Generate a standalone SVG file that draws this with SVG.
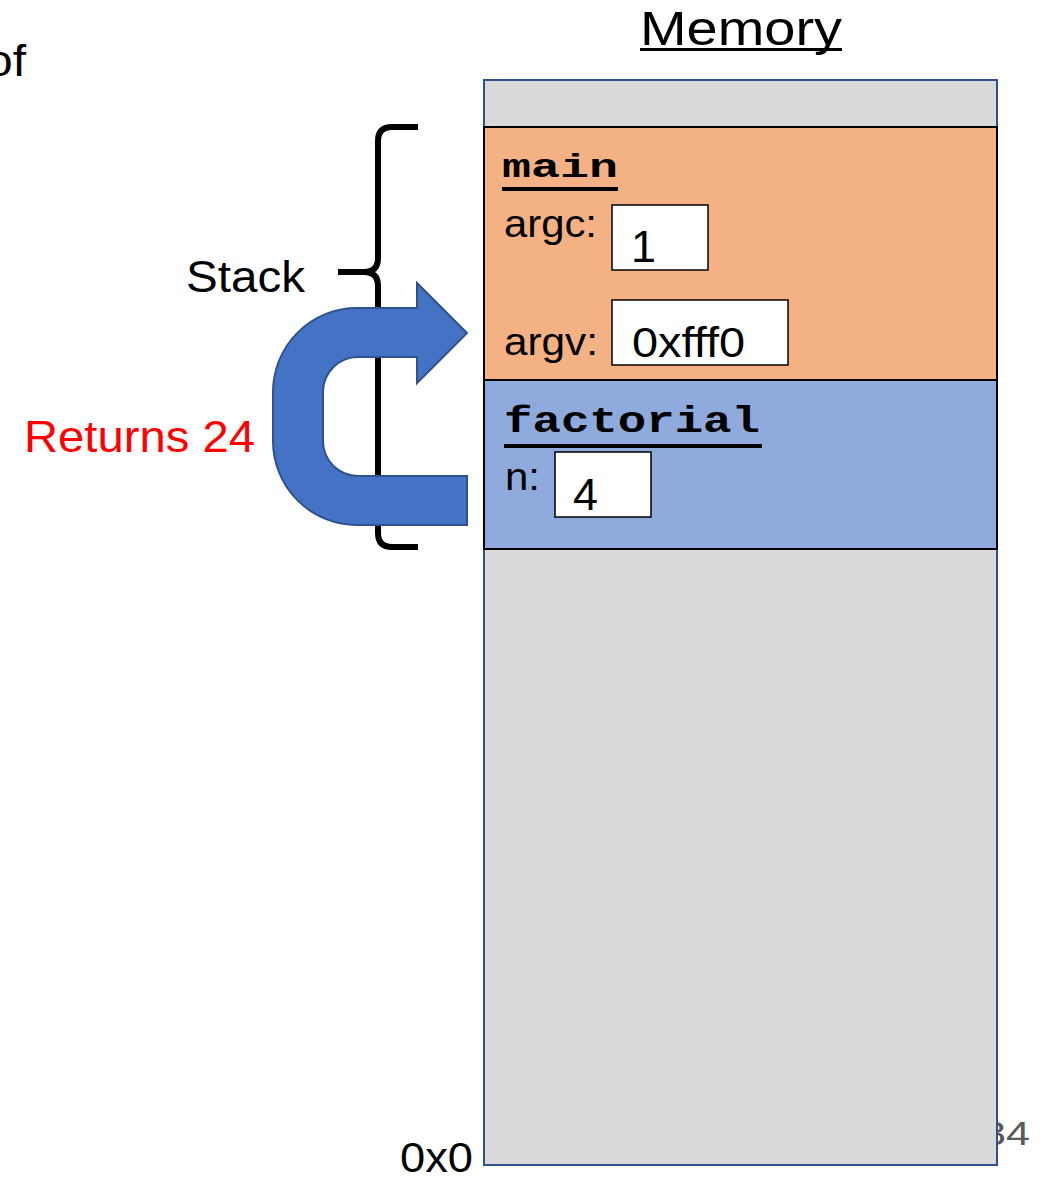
<svg xmlns="http://www.w3.org/2000/svg" width="1043" height="1181" viewBox="0 0 1043 1181">
<style>
.sans{font-family:"Liberation Sans",Arial,sans-serif;fill:#000}
.mono{font-family:"Liberation Mono","Courier New",monospace;font-weight:bold;fill:#000}
.frame{stroke:#000;stroke-width:2}
.box{fill:#fff;stroke:#000;stroke-width:1.5}
</style>
<rect width="1043" height="1181" fill="#fff"/>
<text class="sans" x="-14" y="76" font-size="44" textLength="40" lengthAdjust="spacingAndGlyphs">of</text>
<text x="982" y="1145" font-family="Liberation Sans, Arial, sans-serif" font-size="33" fill="#595959" textLength="48" lengthAdjust="spacingAndGlyphs">34</text>
<g id="memory">
<text class="sans" x="640" y="45" font-size="48" textLength="202" lengthAdjust="spacingAndGlyphs">Memory</text>
<rect x="640" y="48" width="202" height="3" fill="#000"/>
<rect x="484" y="80" width="513" height="1085" fill="#d9d9d9" stroke="#2f528f" stroke-width="2"/>
<text class="sans" x="400" y="1172" font-size="42" textLength="73" lengthAdjust="spacingAndGlyphs">0x0</text>
</g>
<g id="main">
<rect class="frame" x="484" y="127" width="513" height="253" fill="#f4b183"/>
<text class="mono" x="502" y="177" font-size="34" textLength="116" lengthAdjust="spacingAndGlyphs">main</text>
<rect x="502" y="187" width="116" height="4" fill="#000"/>
<text class="sans" x="504" y="237" font-size="38" textLength="93" lengthAdjust="spacingAndGlyphs">argc:</text>
<rect class="box" x="612" y="205" width="96" height="65"/>
<text class="sans" x="631" y="262" font-size="45">1</text>
<text class="sans" x="504" y="355" font-size="38" textLength="94" lengthAdjust="spacingAndGlyphs">argv:</text>
<rect class="box" x="612" y="300" width="176" height="65"/>
<text class="sans" x="632" y="357" font-size="42" textLength="113" lengthAdjust="spacingAndGlyphs">0xfff0</text>
</g>
<g id="factorial">
<rect class="frame" x="484" y="380" width="513" height="169" fill="#8faadc"/>
<text class="mono" x="504" y="432" font-size="36" textLength="256" lengthAdjust="spacingAndGlyphs">factorial</text>
<rect x="504" y="444" width="258" height="4" fill="#000"/>
<text class="sans" x="505" y="490" font-size="38" textLength="35" lengthAdjust="spacingAndGlyphs">n:</text>
<rect class="box" x="555" y="452" width="96" height="65"/>
<text class="sans" x="573" y="510" font-size="45">4</text>
</g>
<g id="stack">
<path d="M418 127 L392 127 Q378 127 378 141 L378 258 Q378 272 364 272 L338 272 M364 272 Q378 272 378 286 L378 533 Q378 547 392 547 L418 547" fill="none" stroke="#000" stroke-width="6"/>
<text class="sans" x="186" y="292" font-size="44" textLength="119" lengthAdjust="spacingAndGlyphs">Stack</text>
</g>
<g id="connectors">
<path d="M467 476 L467 525 L357 525 A84 84 0 0 1 273 441 L273 392 A84 84 0 0 1 357 308 L417 308 L417 283 L467 333 L417 383 L417 357 L358 357 A35 35 0 0 0 323 392 L323 441 A35 35 0 0 0 358 476 Z" fill="#4472c4" stroke="#2f528f" stroke-width="2"/>
<text x="24" y="452" font-family="Liberation Sans, Arial, sans-serif" font-size="44" fill="#ff0000" textLength="231" lengthAdjust="spacingAndGlyphs">Returns 24</text>
</g>
</svg>
